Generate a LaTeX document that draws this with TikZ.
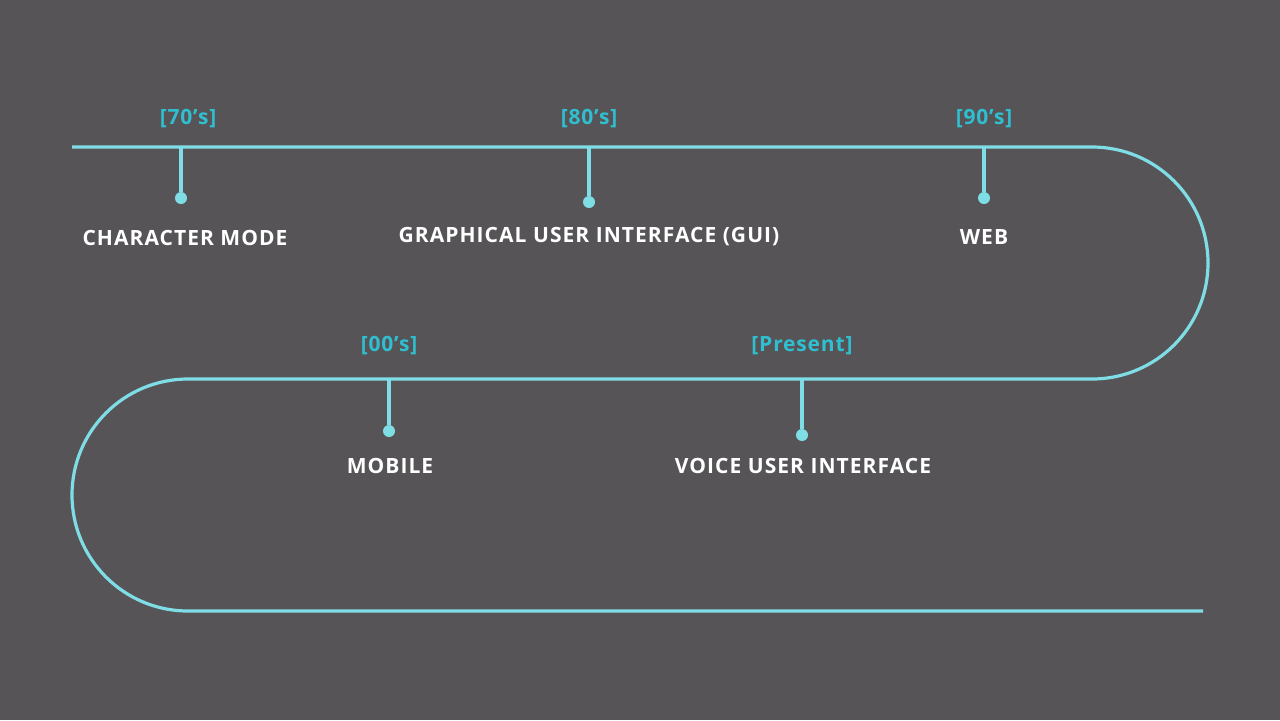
\documentclass[tikz,border=0pt]{standalone}
\usepackage{fontspec}
\setmainfont{Open Sans}
\definecolor{bgc}{HTML}{565457}
\definecolor{linec}{HTML}{7FDDE6}
\definecolor{erac}{HTML}{2FBFD0}
\tikzset{
  era/.style={text=erac, font=\bfseries\fontsize{10.5}{12}\selectfont\addfontfeatures{LetterSpace=4}, inner sep=0pt},
  lbl/.style={text=white, font=\bfseries\fontsize{10.5}{12}\selectfont\addfontfeatures{LetterSpace=5}, inner sep=0pt},
  dot/.style={circle, fill=linec, inner sep=0pt, minimum size=6pt},
  track/.style={draw=linec, line width=1.6pt}
}
\begin{document}
\begin{tikzpicture}[x=0.5pt,y=-0.5pt]
\fill[bgc] (0,0) rectangle (1280,720);
\useasboundingbox (0,0) rectangle (1280,720);
% the winding track
\draw[track] (72,147) -- (1092,147) arc[start angle=-90,end angle=90,radius=116]
  -- (188,379) arc[start angle=-90,end angle=-270,radius=116] -- (1203,611);
% top row
\coordinate (t70) at (181,147);
\node[dot] (d70) at (181,198) {};
\node[era] (e70) at (188,119) {[70's]};
\node[lbl] (l70) at (185,238) {CHARACTER MODE};
\coordinate (t80) at (589,147);
\node[dot] (d80) at (589,202) {};
\node[era] (e80) at (589,119) {[80's]};
\node[lbl] (l80) at (589,237) {GRAPHICAL USER INTERFACE (GUI)};
\coordinate (t90) at (984,147);
\node[dot] (d90) at (984,198) {};
\node[era] (e90) at (984,119) {[90's]};
\node[lbl] (l90) at (984,237) {WEB};
% bottom row
\coordinate (t00) at (389,379);
\node[dot] (d00) at (389,431) {};
\node[era] (e00) at (389,346) {[00's]};
\node[lbl] (l00) at (390,466) {MOBILE};
\coordinate (tnow) at (802,379);
\node[dot] (dnow) at (802,435) {};
\node[era] (enow) at (802,346) {[Present]};
\node[lbl] (lnow) at (803,466) {VOICE USER INTERFACE};
\foreach \a in {70,80,90,00,now}
  \draw[track] (t\a) -- (d\a);
\end{tikzpicture}
\end{document}
